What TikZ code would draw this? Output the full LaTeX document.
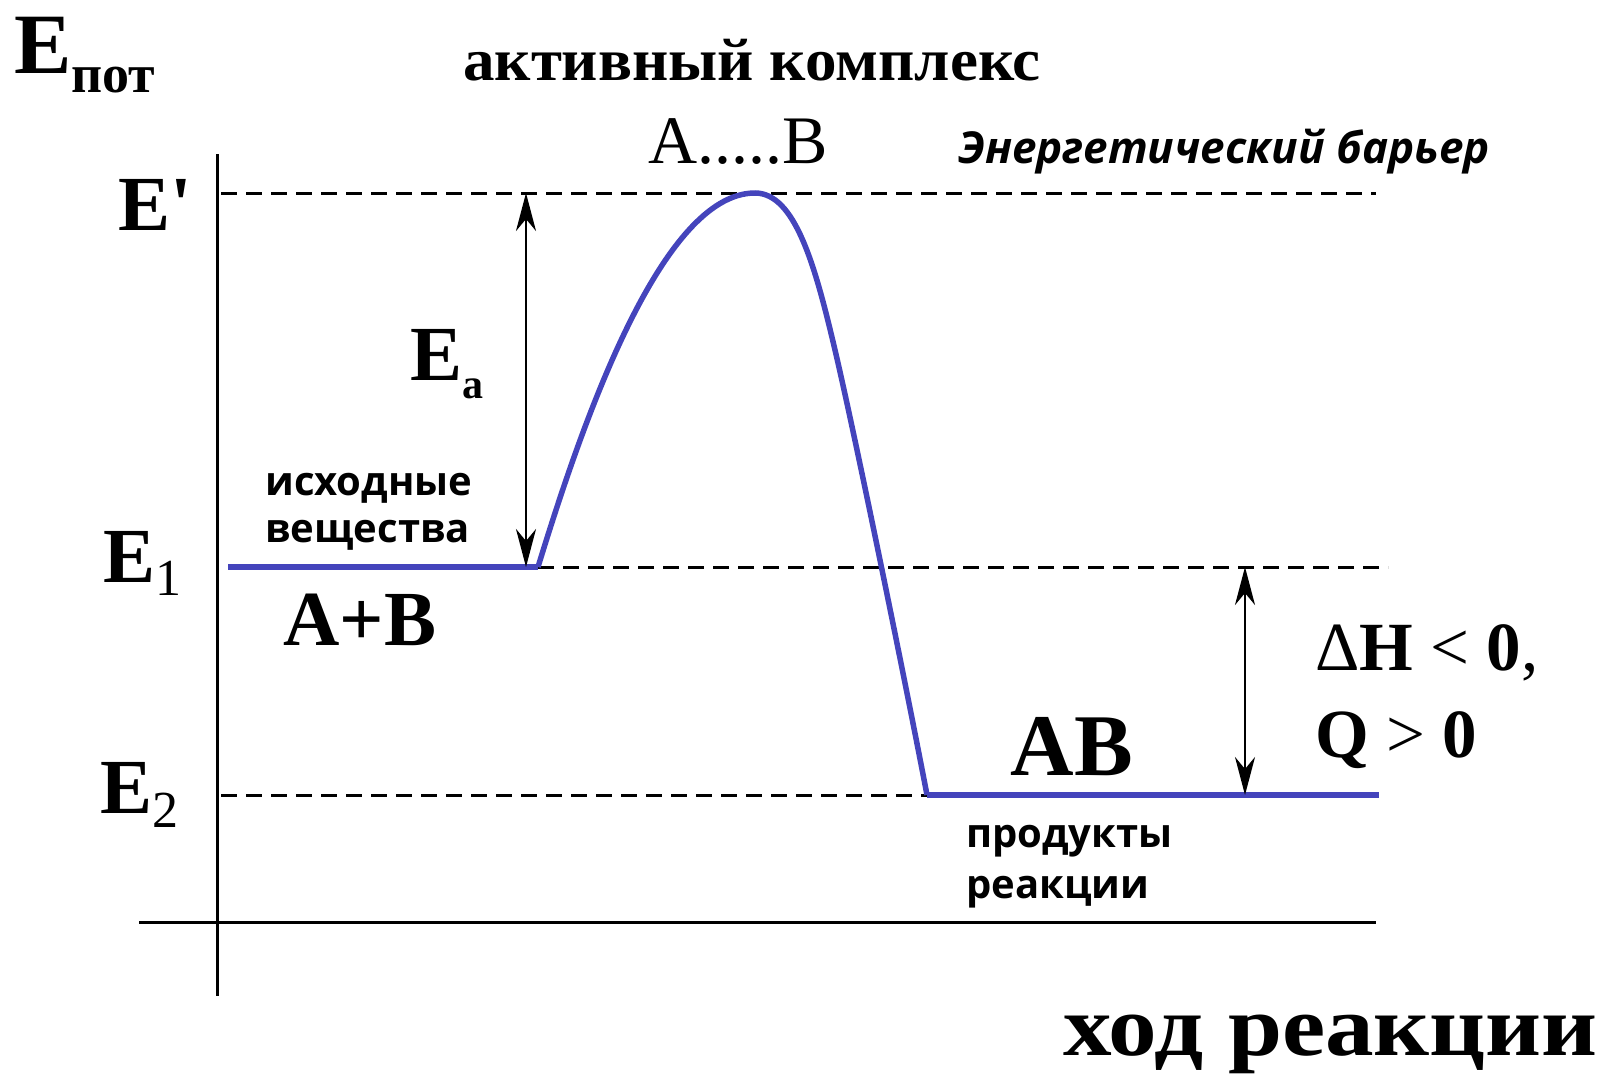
\documentclass[tikz,border=0pt]{standalone}
\usepackage{fontspec}
\setmainfont{Liberation Serif}
\newfontfamily\handfont{Open Sans}
\usetikzlibrary{arrows.meta}
\pgfdeclarelayer{edgelayer}
\pgfdeclarelayer{nodelayer}
\pgfsetlayers{edgelayer,nodelayer,main}
\definecolor{curveblue}{RGB}{68,68,188}
\tikzstyle{axisline}=[draw=black, line width=3pt]
\tikzstyle{dashline}=[draw=black, line width=3pt, dash pattern=on 16pt off 9pt]
\tikzstyle{bluelevel}=[draw=curveblue, line width=5.5pt]
\tikzstyle{gaparrow}=[draw=black, line width=2.5pt, <->, >={Stealth[length=38pt,width=20pt,inset=12pt]}]
\tikzstyle{txt}=[inner sep=0pt, anchor=base west]
\tikzstyle{handtxt}=[style=txt, align=left, font={\handfont\fontsize{40}{47}\selectfont\bfseries}]
\newcommand{\bigfont}{\fontsize{78}{90}\selectfont\bfseries}
\newcommand{\subfont}{\fontsize{52}{60}\selectfont}

\begin{document}
\begin{tikzpicture}[x=1pt, y=-1pt]
	\useasboundingbox (0,0) rectangle (1610,1076);
	\begin{pgfonlayer}{nodelayer}
		\node [style=txt] (epot) at (14,73) {\fontsize{86}{96}\selectfont\bfseries E\raisebox{-19pt}{\fontsize{54}{60}\selectfont пот}};
		\node [style=txt] (eprime) at (118,230) {\bigfont E\textquotesingle};
		\node [style=txt] (eone) at (103,582) {\bigfont E\raisebox{-13pt}{\subfont\mdseries 1}};
		\node [style=txt] (etwo) at (100,813) {\bigfont E\raisebox{-14pt}{\subfont\mdseries 2}};
		\node [style=txt] (ea) at (410,380) {\bigfont E\raisebox{-18pt}{\fontsize{42}{48}\selectfont a}};
		\node [style=txt, anchor=base] (complex) at (752,80) {\fontsize{60}{70}\selectfont\bfseries\addfontfeatures{FakeStretch=1.05}активный комплекс};
		\node [style=txt, anchor=base] (ab) at (738,163) {\fontsize{68}{72}\selectfont A.....B};
		\node [style=txt] (barrier) at (958,163) {\handfont\fontsize{44}{50}\selectfont\bfseries\itshape Энергетический барьер};
		\node [style=handtxt] (start) at (265,542) {исходные\\вещества};
		\node [style=txt, anchor=base] (apb) at (360,645) {\fontsize{78}{86}\selectfont\bfseries A+B};
		\node [style=txt, anchor=base] (prod) at (1072,775) {\fontsize{88}{90}\selectfont\bfseries AB};
		\node [style=handtxt, font={\handfont\fontsize{40}{51}\selectfont\bfseries}] (products) at (966,898) {продукты\\реакции};
		\node [style=txt] (dh) at (1315,670) {\fontsize{69}{74}\selectfont Δ{\bfseries H} < {\bfseries 0},};
		\node [style=txt] (q) at (1315,757) {\fontsize{69}{74}\selectfont {\bfseries Q} > {\bfseries 0}};
		\node [style=txt, anchor=base east] (course) at (1598,1055) {\fontsize{86}{90}\selectfont\bfseries\addfontfeatures{FakeStretch=1.13}ход реакции};
	\end{pgfonlayer}
	\begin{pgfonlayer}{edgelayer}
		% axes
		\coordinate (ytop) at (217,154);
		\coordinate (ybot) at (217,996);
		\coordinate (xl) at (139,922);
		\coordinate (xr) at (1376,922);
		\draw [style=axisline] (ytop) to (ybot);
		\draw [style=axisline] (xl) to (xr);
		% levels
		\coordinate (pl) at (221,193);
		\coordinate (pr) at (1376,193);
		\coordinate (rl) at (228,567);
		\coordinate (ts) at (538,567);
		\coordinate (rr) at (1388,567);
		\coordinate (ql) at (221,795);
		\coordinate (ps) at (927,795);
		\coordinate (qr) at (1379,795);
		\coordinate (top) at (755,193);
		\draw [style=dashline] (pl) to (pr);
		\draw [style=dashline] (ts) to (rr);
		\draw [style=dashline] (ql) to (ps);
		\draw [style=bluelevel] (rl) to (ts);
		\draw [style=bluelevel] (ps) to (qr);
		\draw [style=bluelevel] (ts) .. controls (580,430) and (660,193) .. (top)
			.. controls (795,193) and (815,265) .. (835,350)
			.. controls (855,435) and (905,680) .. (ps);
		% gaps
		\coordinate (eatop) at (526,193);
		\coordinate (eabot) at (526,567);
		\coordinate (dhtop) at (1245,567);
		\coordinate (dhbot) at (1245,795);
		\draw [style=gaparrow] (eatop) to (eabot);
		\draw [style=gaparrow] (dhtop) to (dhbot);
	\end{pgfonlayer}
\end{tikzpicture}
\end{document}
